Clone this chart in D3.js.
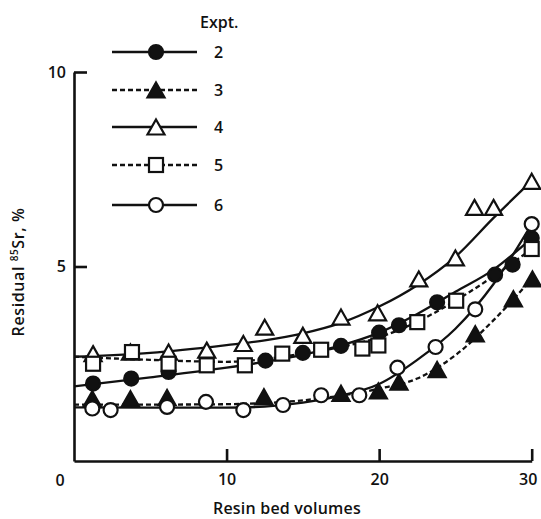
<!DOCTYPE html>
<html>
<head>
<meta charset="utf-8">
<script src="https://cdn.jsdelivr.net/npm/d3@7"></script>
<style>
  html, body { margin: 0; padding: 0; background: #fff; }
  svg { display: block; }
  text { font-family: "Open Sans", "DejaVu Sans", sans-serif; fill: #111; font-weight: 600; }
</style>
</head>
<body>
<svg id="chart" width="541" height="519"></svg>
<script>
// Experiment labels (legend order)
const experiments = ["2", "3", "4", "5", "6"];

// Measured points, resin bed volumes vs residual 85Sr (%)
const x2 = [1.25, 3.75, 6.2, 12.55, 15.0, 17.5, 20.0, 21.3, 23.8, 27.6, 28.75, 30.0];
const y2 = [1.99, 2.12, 2.29, 2.58, 2.78, 2.96, 3.30, 3.49, 4.08, 4.79, 5.05, 5.73];

const x3 = [1.2, 3.7, 6.1, 12.45, 17.5, 19.95, 21.3, 23.8, 26.3, 28.8, 30.05];
const y3 = [1.60, 1.60, 1.63, 1.65, 1.74, 1.80, 2.03, 2.35, 3.27, 4.17, 4.68];

const x4 = [1.25, 3.7, 6.2, 8.7, 11.1, 12.5, 15.0, 17.5, 19.9, 22.6, 25.0, 26.25, 27.5, 30.0];
const y4 = [2.76, 2.80, 2.80, 2.85, 3.02, 3.44, 3.23, 3.70, 3.81, 4.68, 5.22, 6.52, 6.52, 7.19];

const x5 = [1.25, 3.8, 6.2, 8.7, 11.2, 13.65, 16.2, 18.9, 19.95, 22.5, 25.05, 30.0];
const y5 = [2.50, 2.80, 2.50, 2.46, 2.46, 2.76, 2.86, 2.89, 2.97, 3.57, 4.12, 5.45];

const x6 = [1.2, 2.4, 6.1, 8.65, 11.1, 13.7, 16.2, 18.7, 21.2, 23.7, 26.3, 30.0];
const y6 = [1.35, 1.31, 1.39, 1.52, 1.31, 1.44, 1.69, 1.69, 2.40, 2.93, 3.90, 6.09];

// Smoothed curves drawn through each experiment
const fitX = [0, 5, 10, 12.5, 15, 17.5, 20, 22.5, 25, 27.5, 30];
const fit2 = [1.92, 2.15, 2.40, 2.55, 2.73, 2.97, 3.30, 3.78, 4.35, 4.92, 5.73];
const fit3 = [1.45, 1.45, 1.46, 1.49, 1.56, 1.68, 1.86, 2.12, 2.72, 3.62, 4.68];
const fit4 = [2.68, 2.78, 2.98, 3.10, 3.28, 3.55, 3.97, 4.52, 5.25, 6.25, 7.20];
const fit5 = [2.68, 2.60, 2.55, 2.62, 2.76, 2.93, 3.18, 3.58, 4.12, 4.75, 5.45];
const fit6 = [1.38, 1.37, 1.37, 1.40, 1.50, 1.68, 1.98, 2.60, 3.40, 4.55, 6.09];

// Axis ticks
const xTicks = [10, 20, 30];
const yTicks = [5, 10];

const series = [
  { name: "2", xs: x2, ys: y2, fit: fit2, marker: "circle", filled: true,  dashed: false },
  { name: "3", xs: x3, ys: y3, fit: fit3, marker: "triangle", filled: true,  dashed: true },
  { name: "4", xs: x4, ys: y4, fit: fit4, marker: "triangle", filled: false, dashed: false },
  { name: "5", xs: x5, ys: y5, fit: fit5, marker: "square", filled: false, dashed: true },
  { name: "6", xs: x6, ys: y6, fit: fit6, marker: "circle", filled: false, dashed: false }
];

const svg = d3.select("#chart");
const ink = "#111";
const x = d3.scaleLinear().domain([0, 30]).range([74, 531.7]);
const y = d3.scaleLinear().domain([0, 10]).range([461, 72]);

// Axes with inward ticks
const xAxis = d3.axisBottom(x).tickValues(xTicks).tickSize(-12).tickSizeOuter(0).tickPadding(13);
const yAxis = d3.axisLeft(y).tickValues(yTicks).tickSize(-13).tickSizeOuter(0).tickPadding(8);

const gx = svg.append("g").attr("transform", `translate(0,${y(0)})`).call(xAxis);
const gy = svg.append("g").attr("transform", `translate(${x(0)},0)`).call(yAxis);
[gx, gy].forEach(g => {
  g.select(".domain").attr("stroke", ink).attr("stroke-width", 2.6);
  g.selectAll(".tick line").attr("stroke", ink).attr("stroke-width", 2.6);
  g.selectAll(".tick text").attr("font-size", 16).attr("font-family", "Open Sans, sans-serif")
    .attr("font-weight", 600).attr("fill", ink);
});
gx.selectAll(".tick text").filter(d => d === 30).attr("dx", -4);

// Origin label
svg.append("text").attr("x", x(0) - 14).attr("y", y(0) + 25)
  .attr("text-anchor", "middle").attr("font-size", 16).text("0");

// Axis titles
svg.append("text").attr("x", 287).attr("y", 514)
  .attr("text-anchor", "middle").attr("font-size", 16).attr("letter-spacing", 0.2)
  .text("Resin bed volumes");

const yt = svg.append("text")
  .attr("transform", "translate(24,272) rotate(-90)")
  .attr("text-anchor", "middle").attr("font-size", 16).attr("letter-spacing", 0.6);
yt.append("tspan").text("Residual ");
yt.append("tspan").attr("font-size", 10).attr("dy", -6).text("85");
yt.append("tspan").attr("dy", 6).text("Sr, %");

// Marker drawing
function drawMarker(g, s, cx, cy) {
  const fill = s.filled ? ink : "#fff";
  if (s.marker === "circle") {
    g.append("circle").attr("cx", cx).attr("cy", cy).attr("r", 7)
      .attr("fill", fill).attr("stroke", ink).attr("stroke-width", 2.2);
  } else if (s.marker === "square") {
    g.append("rect").attr("x", cx - 7).attr("y", cy - 7).attr("width", 14).attr("height", 14)
      .attr("fill", fill).attr("stroke", ink).attr("stroke-width", 2.2);
  } else {
    const h = 15, w = 17;
    g.append("path")
      .attr("d", `M${cx},${cy - h / 2}L${cx + w / 2},${cy + h / 2}L${cx - w / 2},${cy + h / 2}Z`)
      .attr("fill", fill).attr("stroke", ink).attr("stroke-width", 2.2).attr("stroke-linejoin", "miter");
  }
}

const line = d3.line().x(d => x(d[0])).y(d => y(d[1])).curve(d3.curveMonotoneX);

// Curves
const linesG = svg.append("g");
series.forEach(s => {
  linesG.append("path")
    .attr("d", line(fitX.map((v, i) => [v, s.fit[i]])))
    .attr("fill", "none").attr("stroke", ink).attr("stroke-width", 2.3)
    .attr("stroke-dasharray", s.dashed ? "5,3" : null);
});

// Points
const ptsG = svg.append("g");
series.forEach(s => {
  s.xs.forEach((xv, i) => drawMarker(ptsG, s, x(xv), y(s.ys[i])));
});

// Legend
svg.append("text").attr("x", 200).attr("y", 28).attr("font-size", 16).text("Expt.");
const legY = [52, 90, 127, 165, 205];
const lg = svg.append("g");
series.forEach((s, i) => {
  const ly = legY[i];
  lg.append("line").attr("x1", 112).attr("x2", 197).attr("y1", ly).attr("y2", ly)
    .attr("stroke", ink).attr("stroke-width", 2.3)
    .attr("stroke-dasharray", s.dashed ? "5,3" : null);
  drawMarker(lg, s, 156, ly);
  lg.append("text").attr("x", 214).attr("y", ly).attr("dy", "0.36em")
    .attr("font-size", 16).text(experiments[i]);
});
</script>
</body>
</html>
